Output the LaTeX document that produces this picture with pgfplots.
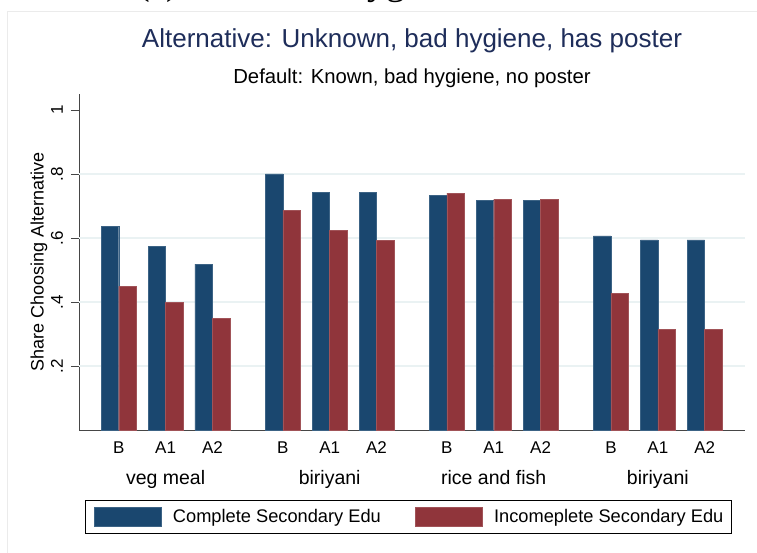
\documentclass[border=0pt]{standalone}
\usepackage{pgfplots}
\pgfplotsset{compat=1.18}
\usepackage{fontspec}
\setmainfont{Liberation Sans}
\newfontfamily\seriffont{Liberation Serif}
\definecolor{stblue}{RGB}{26,71,111}
\definecolor{stred}{RGB}{144,53,59}
\definecolor{sttitle}{RGB}{30,45,90}
\definecolor{stgrid}{RGB}{234,242,243}
\definecolor{staxis}{RGB}{70,70,70}

\begin{document}
\begin{tikzpicture}[x=1pt,y=1pt]
\useasboundingbox (0,0) rectangle (757,552);
\fill[white] (0,0) rectangle (757,552);
\draw[black!8, line width=0.8pt] (7,-5) -- (7,541) -- (765,541);
\node[font=\seriffont\fontsize{38}{40}\selectfont, anchor=base west, inner sep=0pt] at (137,557) {(c) Unknown hygiene};
\begin{axis}[
  at={(79pt,122pt)}, anchor=south west,
  scale only axis, width=666pt, height=336pt,
  xmin=-0.847, xmax=13.36, ymin=0, ymax=1.05,
  axis x line*=bottom, axis y line*=left,
  axis line style={staxis, line width=0.9pt, -},
  tick align=outside, major tick length=8pt,
  ytick={0.2,0.4,0.6,0.8,1}, yticklabels={.2,.4,.6,.8,1},
  ytick style={staxis, line width=0.9pt},
  yticklabel style={rotate=90, anchor=base, inner sep=0pt, font=\fontsize{17}{20}\selectfont},
  yticklabel shift=8pt,
  /pgf/number format/assume math mode=true,
  extra y ticks={0.2,0.4,0.6,0.8}, extra y tick labels={},
  extra y tick style={grid=major, major tick length=0pt},
  major grid style={stgrid, line width=1.2pt},
  xtick={0,1,2,3.5,4.5,5.5,7,8,9,10.5,11.5,12.5},
  xticklabels={B,A1,A2,B,A1,A2,B,A1,A2,B,A1,A2},
  xtick style={draw=none},
  xticklabel style={anchor=base, inner sep=0pt, font=\fontsize{17}{20}\selectfont},
  xticklabel shift=15.5pt,
  ylabel={Share Choosing Alternative},
  ylabel style={at={(axis description cs:-0.0533,0.5)}, anchor=base, inner sep=0pt, font=\fontsize{18}{21}\selectfont},
  title={Alternative: Unknown, bad hygiene, has poster},
  title style={at={(0.5,1)}, anchor=base, yshift=40.7pt, inner sep=0pt, font=\fontsize{26}{30}\selectfont, text=sttitle},
  clip=false,
  legend columns=2,
  legend style={at={(axis description cs:0.009,-0.2083)}, anchor=north west,
    draw=black, line width=0.9pt, inner xsep=8.3pt, inner ysep=6.9pt,
    font=\fontsize{18.25}{22}\selectfont, nodes={inner sep=0pt},
    /tikz/every odd column/.append style={column sep=11.3pt},
    /tikz/every even column/.append style={column sep=34pt}},
  legend image code/.code={\fill[#1] (0pt,-9.35pt) rectangle (67.5pt,9.35pt);},
]
\addplot[ybar, bar width=0.373, bar shift=-0.1865, fill=stblue, draw=stblue!85!white, line width=0.4pt]
  coordinates {(0,0.636) (1,0.573) (2,0.518) (3.5,0.800) (4.5,0.743) (5.5,0.743)
               (7,0.733) (8,0.718) (9,0.718) (10.5,0.607) (11.5,0.594) (12.5,0.594)};
\addlegendentry{Complete Secondary Edu}
\addplot[ybar, bar width=0.373, bar shift=0.1865, fill=stred, draw=stred!85!white, line width=0.4pt]
  coordinates {(0,0.449) (1,0.400) (2,0.350) (3.5,0.687) (4.5,0.625) (5.5,0.593)
               (7,0.740) (8,0.721) (9,0.721) (10.5,0.428) (11.5,0.315) (12.5,0.315)};
\addlegendentry{Incomeplete Secondary Edu\hspace{8.7pt}}
\node[anchor=base, yshift=10.7pt, inner sep=0pt, font=\fontsize{20.3}{24}\selectfont] at (rel axis cs:0.5,1) {Default: Known, bad hygiene, no poster};
\node[anchor=base, yshift=-54.3pt, inner sep=0pt, font=\fontsize{19.5}{23}\selectfont] at (axis cs:1,0) {veg meal};
\node[anchor=base, yshift=-54.3pt, inner sep=0pt, font=\fontsize{19.5}{23}\selectfont] at (axis cs:4.5,0) {biriyani};
\node[anchor=base, yshift=-54.3pt, inner sep=0pt, font=\fontsize{19.5}{23}\selectfont] at (axis cs:8,0) {rice and fish};
\node[anchor=base, yshift=-54.3pt, inner sep=0pt, font=\fontsize{19.5}{23}\selectfont] at (axis cs:11.5,0) {biriyani};
\end{axis}
\end{tikzpicture}
\end{document}
